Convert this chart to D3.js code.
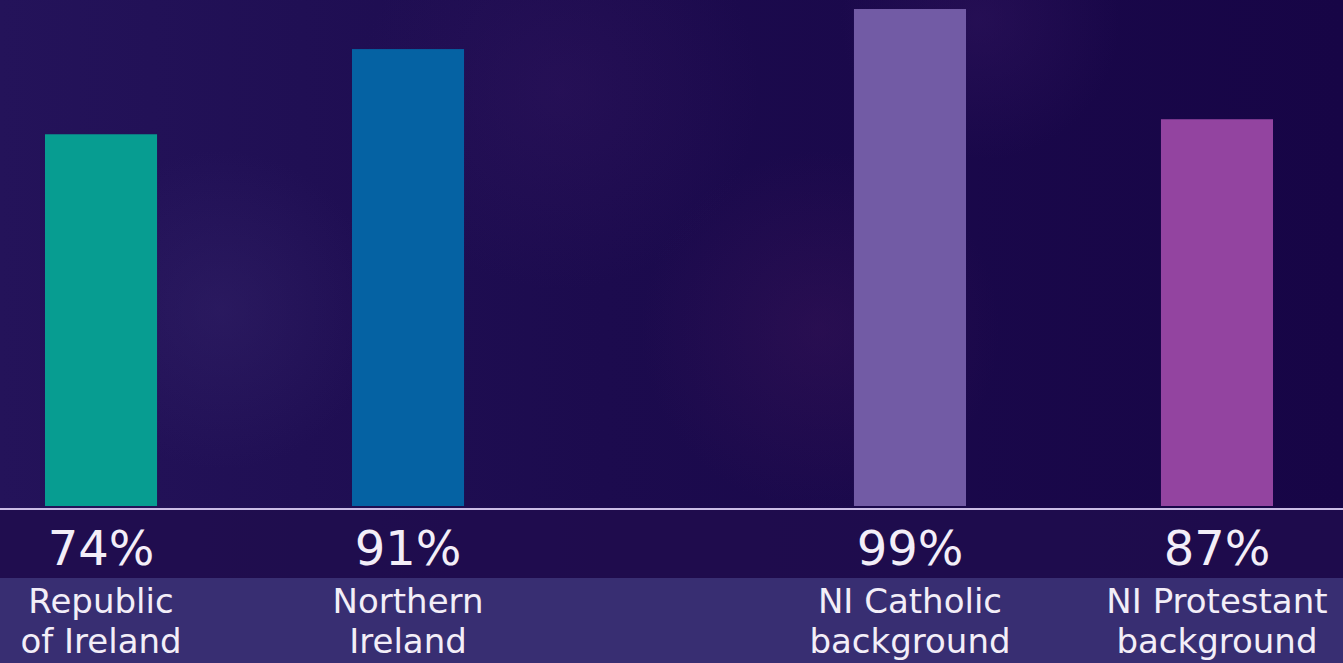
<!DOCTYPE html>
<html>
<head>
<meta charset="utf-8">
<script src="https://cdn.jsdelivr.net/npm/d3@7/dist/d3.min.js"></script>
<style>
  html, body { margin: 0; padding: 0; background: #1b0c4a; }
  svg { display: block; }
</style>
</head>
<body>
<div id="chart"></div>
<script>
// ---- data ----
const categories = ["Republic of Ireland", "Northern Ireland", "NI Catholic background", "NI Protestant background"];
const labelLines = [["Republic", "of Ireland"], ["Northern", "Ireland"], ["NI Catholic", "background"], ["NI Protestant", "background"]];
const groups = ["Region", "Region", "Community", "Community"];
const values = [74, 91, 99, 87];            // printed percentages
const barLengths = [74, 91, 99, 77];        // bar lengths as drawn in the original (last bar drawn shorter than its label)
const barColors = ["#079d91", "#0562a3", "#725ba5", "#9344a0"];

// ---- layout ----
const W = 1343, H = 663;
const svg = d3.select("#chart").append("svg").attr("width", W).attr("height", H);
const defs = svg.append("defs");

// background
const bg = defs.append("linearGradient").attr("id", "bg").attr("x1", 0).attr("x2", 1).attr("y1", 0).attr("y2", 0);
bg.append("stop").attr("offset", 0).attr("stop-color", "#24135a");
bg.append("stop").attr("offset", 0.45).attr("stop-color", "#1c0b4e");
bg.append("stop").attr("offset", 1).attr("stop-color", "#170546");
svg.append("rect").attr("width", W).attr("height", H).attr("fill", "url(#bg)");

const glows = [
  {cx: 220, cy: 310, r: 160, c: "#3a2a70", o: 0.35},
  {cx: 560, cy: 90, r: 200, c: "#3a1a66", o: 0.3},
  {cx: 820, cy: 330, r: 180, c: "#4a1a5e", o: 0.3},
  {cx: 980, cy: 20, r: 140, c: "#3a1a66", o: 0.35}
];
glows.forEach((g, i) => {
  const rg = defs.append("radialGradient").attr("id", "glow" + i);
  rg.append("stop").attr("offset", 0).attr("stop-color", g.c).attr("stop-opacity", g.o);
  rg.append("stop").attr("offset", 1).attr("stop-color", g.c).attr("stop-opacity", 0);
  svg.append("circle").attr("cx", g.cx).attr("cy", g.cy).attr("r", g.r).attr("fill", `url(#glow${i})`);
});

// label band
svg.append("rect").attr("x", 0).attr("y", 510).attr("width", W).attr("height", 68).attr("fill", "#200d4e").attr("opacity", 0.85);
svg.append("rect").attr("x", 0).attr("y", 578).attr("width", W).attr("height", H - 578).attr("fill", "#382e72");

// scales
const groupNames = Array.from(new Set(groups));
const x0 = d3.scaleBand().domain(groupNames).range([45, 1273]).paddingInner(0.482).paddingOuter(0);
const x1 = d3.scaleBand().domain([0, 1]).range([0, x0.bandwidth()]).paddingInner(0.635).paddingOuter(0);
const idxInGroup = categories.map((c, i) => groups.slice(0, i).filter(g => g === groups[i]).length);
const xPos = i => x0(groups[i]) + x1(idxInGroup[i]);
const y = d3.scaleLinear().domain([0, 100]).range([505, 4]);

// bars
svg.append("g").selectAll("rect").data(categories).join("rect")
  .attr("x", (d, i) => xPos(i))
  .attr("y", (d, i) => y(barLengths[i]))
  .attr("width", x1.bandwidth())
  .attr("height", (d, i) => y(0) - y(barLengths[i]) + 1)
  .attr("fill", (d, i) => barColors[i]);

// baseline
svg.append("line").attr("x1", 0).attr("x2", W).attr("y1", 509).attr("y2", 509)
  .attr("stroke", "#cbbde6").attr("stroke-width", 2);

// values
svg.append("g").selectAll("text").data(values).join("text")
  .attr("x", (d, i) => xPos(i) + x1.bandwidth() / 2)
  .attr("y", 565)
  .attr("text-anchor", "middle")
  .attr("font-family", "DejaVu Sans, Verdana, sans-serif")
  .attr("font-size", 48)
  .attr("fill", "#f3eef8")
  .text(d => d + "%");

// category labels
const lab = svg.append("g").selectAll("text").data(labelLines).join("text")
  .attr("text-anchor", "middle")
  .attr("font-family", "DejaVu Sans, Verdana, sans-serif")
  .attr("font-size", 34)
  .attr("fill", "#f3eef8");
lab.selectAll("tspan").data((d, i) => d.map(t => ({t, i}))).join("tspan")
  .attr("x", d => xPos(d.i) + x1.bandwidth() / 2)
  .attr("y", (d, j) => 613 + j * 40)
  .text(d => d.t);
</script>
</body>
</html>
